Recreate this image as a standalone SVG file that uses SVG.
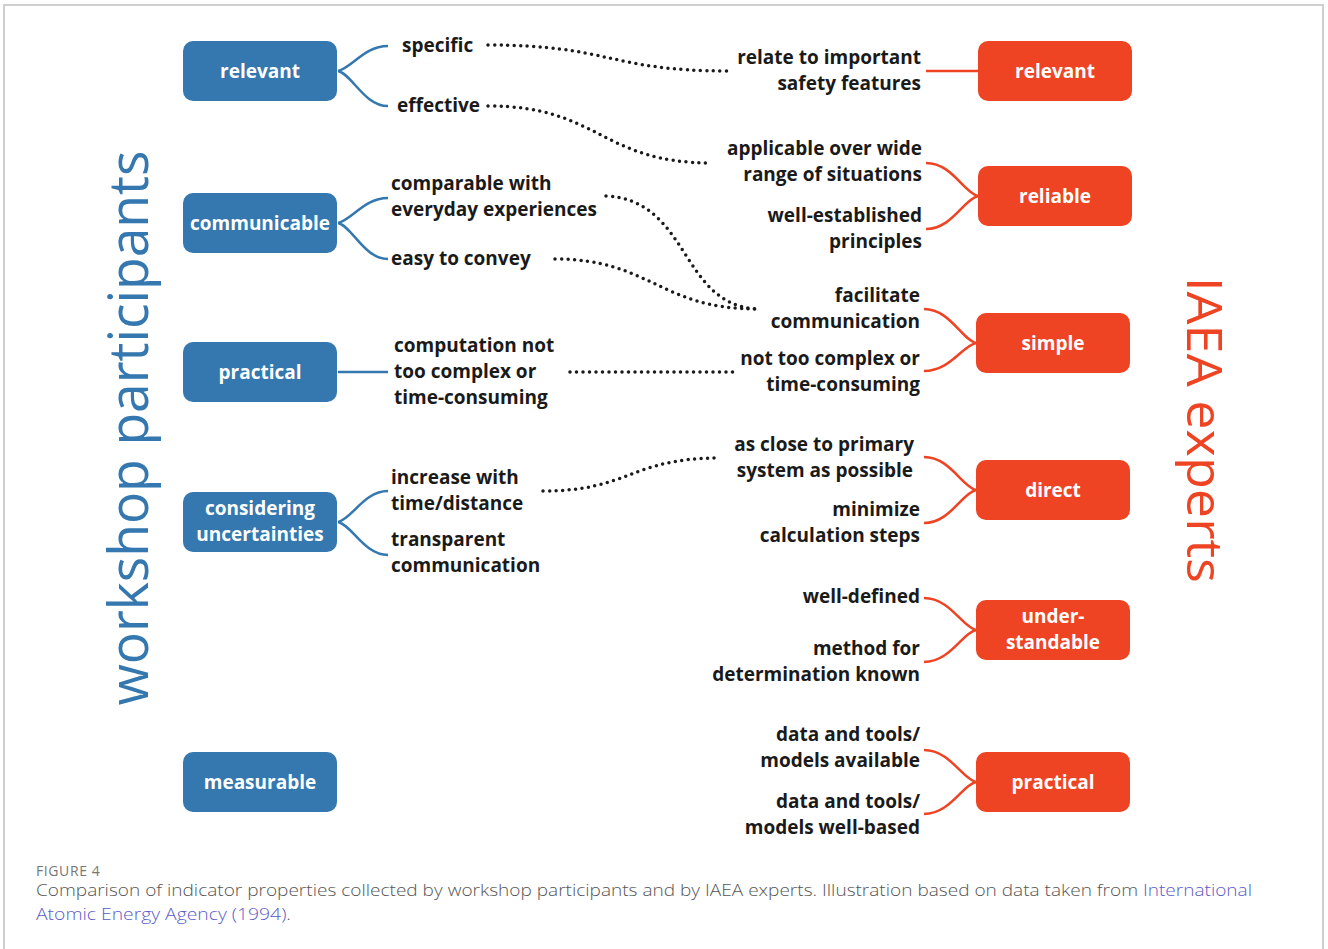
<svg xmlns="http://www.w3.org/2000/svg" width="1328" height="949" viewBox="0 0 1328 949">
<style>
.bn{fill:#3577AF}
.rn{fill:#EE4423}
.nt{font-family:"Open Sans","Liberation Sans",sans-serif;font-weight:700;font-size:19px;fill:#fff;text-anchor:middle}
.lb{font-family:"Open Sans","Liberation Sans",sans-serif;font-weight:700;font-size:19px;fill:#1a1a1a}
.r{text-anchor:end}
.bl{fill:none;stroke:#3577AF;stroke-width:2.5}
.rl{fill:none;stroke:#EE4423;stroke-width:2.5}
.dt{fill:none;stroke:#1a1a1a;stroke-width:3.5;stroke-linecap:round;stroke-dasharray:0 6.5}
.cap{font-family:"Open Sans","Liberation Sans",sans-serif;font-size:17px;fill:#555;font-weight:300}
</style>
<rect width="1328" height="949" fill="#fff"/>
<path d="M4,949 V5 H1323 V949" fill="none" stroke="#cfcfcf" stroke-width="2"/>

<text transform="translate(148,428) rotate(-90)" font-family="Open Sans, Liberation Sans, sans-serif" font-size="54" fill="#3577AF" text-anchor="middle" textLength="555" lengthAdjust="spacingAndGlyphs">workshop participants</text>
<text transform="translate(1187,430) rotate(90)" font-family="Open Sans, Liberation Sans, sans-serif" font-size="49" fill="#EE4423" text-anchor="middle" textLength="306" lengthAdjust="spacingAndGlyphs">IAEA experts</text>

<g id="connectors">
<path class="bl" d="M338,71 C352,68 364,46 388,46 M338,71 C352,74 364,106 388,106"/>
<path class="bl" d="M338,223 C352,220 364,198 388,198 M338,223 C352,226 364,259 388,259"/>
<path class="bl" d="M338,372 H388"/>
<path class="bl" d="M338,522 C352,519 364,491 388,491 M338,522 C352,525 364,555 388,555"/>
<path class="rl" d="M926,71 H978"/>
<path class="rl" d="M978,196 C964,193 952,163 926,163 M978,196 C964,199 952,229 926,229"/>
<path class="rl" d="M976,343 C962,340 950,309 924,309 M976,343 C962,346 950,371 924,371"/>
<path class="rl" d="M976,490 C962,487 950,457 924,457 M976,490 C962,493 950,523 924,523"/>
<path class="rl" d="M976,630 C962,627 950,598 924,598 M976,630 C962,633 950,662 924,662"/>
<path class="rl" d="M976,782 C962,779 950,750 924,750 M976,782 C962,785 950,814 924,814"/>
<path class="dt" d="M488,45 C610,45 610,71 727,71"/>
<path class="dt" d="M488,106 C600,106 600,163 712,163"/>
<path class="dt" d="M606,196 C690,200 680,305 757,309"/>
<path class="dt" d="M555,259 C650,259 660,309 757,309"/>
<path class="dt" d="M570,372 H735"/>
<path class="dt" d="M543,491 C630,491 630,458 720,458"/>
</g>

<g id="p-relevant"><rect class="bn" x="183" y="41" width="154" height="60" rx="10"/><text class="nt" x="260" y="78">relevant</text></g>
<g id="p-communicable"><rect class="bn" x="183" y="193" width="154" height="60" rx="10"/><text class="nt" x="260" y="230">communicable</text></g>
<g id="p-practical"><rect class="bn" x="183" y="342" width="154" height="60" rx="10"/><text class="nt" x="260" y="379">practical</text></g>
<g id="p-uncertainties"><rect class="bn" x="183" y="492" width="154" height="60" rx="10"/><text class="nt" x="260" y="515">considering</text><text class="nt" x="260" y="541">uncertainties</text></g>
<g id="p-measurable"><rect class="bn" x="183" y="752" width="154" height="60" rx="10"/><text class="nt" x="260" y="789">measurable</text></g>

<g id="e-relevant"><rect class="rn" x="978" y="41" width="154" height="60" rx="10"/><text class="nt" x="1055" y="78">relevant</text></g>
<g id="e-reliable"><rect class="rn" x="978" y="166" width="154" height="60" rx="10"/><text class="nt" x="1055" y="203">reliable</text></g>
<g id="e-simple"><rect class="rn" x="976" y="313" width="154" height="60" rx="10"/><text class="nt" x="1053" y="350">simple</text></g>
<g id="e-direct"><rect class="rn" x="976" y="460" width="154" height="60" rx="10"/><text class="nt" x="1053" y="497">direct</text></g>
<g id="e-understandable"><rect class="rn" x="976" y="600" width="154" height="60" rx="10"/><text class="nt" x="1053" y="623">under-</text><text class="nt" x="1053" y="649">standable</text></g>
<g id="e-practical"><rect class="rn" x="976" y="752" width="154" height="60" rx="10"/><text class="nt" x="1053" y="789">practical</text></g>

<g id="labels-left">
<text class="lb" x="402" y="52">specific</text>
<text class="lb" x="397" y="112">effective</text>
<text class="lb" x="391" y="190">comparable with</text>
<text class="lb" x="391" y="216">everyday experiences</text>
<text class="lb" x="391" y="265">easy to convey</text>
<text class="lb" x="394" y="352">computation not</text>
<text class="lb" x="394" y="378">too complex or</text>
<text class="lb" x="394" y="404">time-consuming</text>
<text class="lb" x="391" y="484">increase with</text>
<text class="lb" x="391" y="510">time/distance</text>
<text class="lb" x="391" y="546">transparent</text>
<text class="lb" x="391" y="572">communication</text>
</g>

<g id="labels-right">
<text class="lb r" x="921" y="64">relate to important</text>
<text class="lb r" x="921" y="90">safety features</text>
<text class="lb r" x="922" y="155">applicable over wide</text>
<text class="lb r" x="922" y="181">range of situations</text>
<text class="lb r" x="922" y="222">well-established</text>
<text class="lb r" x="922" y="248">principles</text>
<text class="lb r" x="920" y="302">facilitate</text>
<text class="lb r" x="920" y="328">communication</text>
<text class="lb r" x="920" y="365">not too complex or</text>
<text class="lb r" x="920" y="391">time-consuming</text>
<text class="lb r" x="914" y="451">as close to primary</text>
<text class="lb r" x="913" y="477">system as possible</text>
<text class="lb r" x="920" y="516">minimize</text>
<text class="lb r" x="920" y="542">calculation steps</text>
<text class="lb r" x="920" y="603">well-defined</text>
<text class="lb r" x="920" y="655">method for</text>
<text class="lb r" x="920" y="681">determination known</text>
<text class="lb r" x="920" y="741">data and tools/</text>
<text class="lb r" x="920" y="767">models available</text>
<text class="lb r" x="920" y="808">data and tools/</text>
<text class="lb r" x="920" y="834">models well-based</text>
</g>

<g id="caption">
<text x="36" y="876" font-family="Open Sans, Liberation Sans, sans-serif" font-size="14" fill="#777" letter-spacing="0.6">FIGURE 4</text>
<text class="cap" x="36" y="896" textLength="1216" lengthAdjust="spacingAndGlyphs">Comparison of indicator properties collected by workshop participants and by IAEA experts. Illustration based on data taken from <tspan fill="#5B5BC8">International</tspan></text>
<text class="cap" x="36" y="920" textLength="255" lengthAdjust="spacingAndGlyphs"><tspan fill="#5B5BC8">Atomic Energy Agency (1994)</tspan>.</text>
</g>
</svg>
